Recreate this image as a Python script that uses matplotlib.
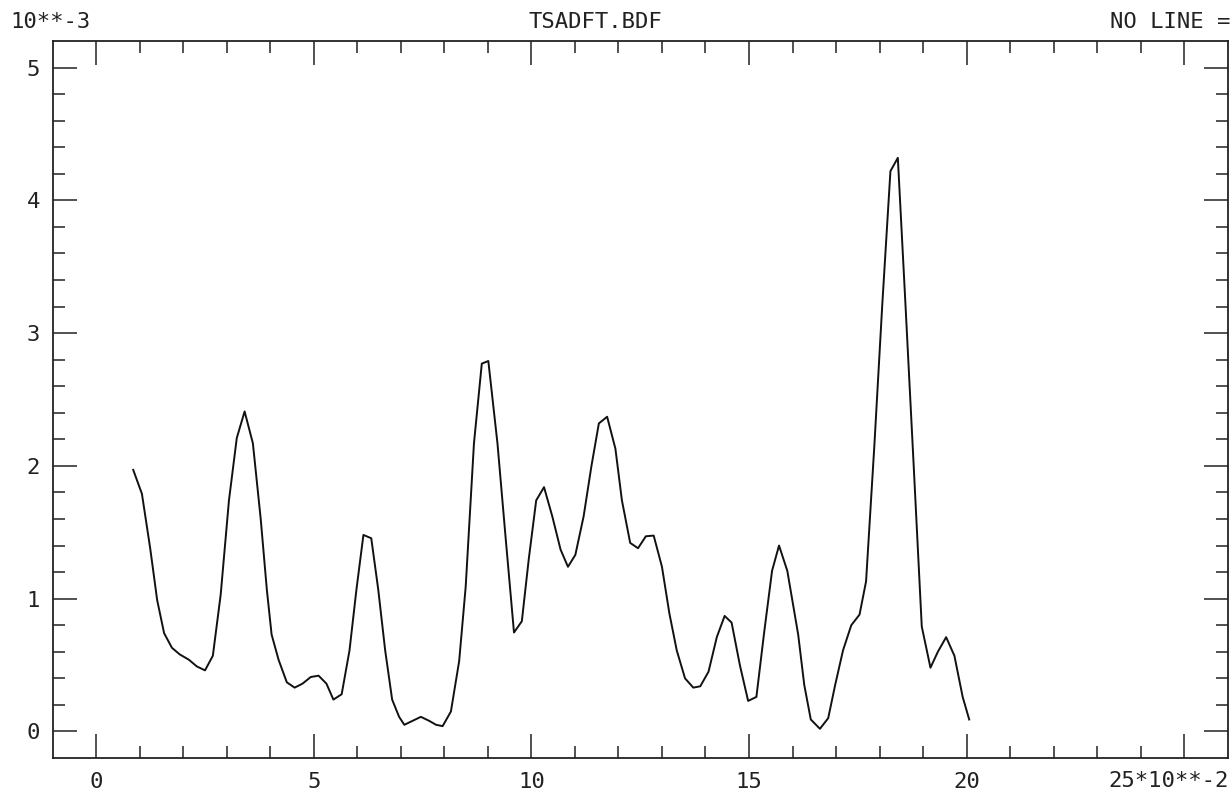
import matplotlib
matplotlib.use("Agg")
import matplotlib.pyplot as plt
from matplotlib.ticker import FixedLocator

# ---- data ----
freq = [0.85, 1.05, 1.24, 1.40, 1.56, 1.74, 1.92, 2.13, 2.31, 2.50,
        2.68, 2.86, 3.05, 3.23, 3.41, 3.60, 3.78, 3.92, 4.03, 4.19,
        4.38, 4.56, 4.74, 4.93, 5.11, 5.29, 5.45, 5.64, 5.82, 5.98,
        6.14, 6.32, 6.48, 6.64, 6.80, 6.96, 7.08, 7.27, 7.46, 7.65,
        7.81, 7.96, 8.15, 8.34, 8.49, 8.68, 8.86, 9.01, 9.22, 9.41,
        9.60, 9.78, 9.94, 10.11, 10.29, 10.48, 10.67, 10.84, 11.01, 11.20,
        11.38, 11.55, 11.74, 11.93, 12.08, 12.27, 12.45, 12.63, 12.81, 13.00,
        13.17, 13.34, 13.53, 13.72, 13.88, 14.07, 14.26, 14.44, 14.60, 14.79,
        14.98, 15.17, 15.35, 15.53, 15.69, 15.88, 16.13, 16.27, 16.42, 16.63,
        16.82, 16.98, 17.16, 17.35, 17.54, 17.69, 17.88, 18.06, 18.25, 18.42,
        18.59, 18.78, 18.97, 19.17, 19.34, 19.53, 19.72, 19.91, 20.06]
power = [1.97, 1.79, 1.38, 0.99, 0.74, 0.63, 0.58, 0.54, 0.49, 0.46,
         0.57, 1.03, 1.74, 2.21, 2.41, 2.17, 1.60, 1.07, 0.73, 0.54,
         0.37, 0.33, 0.36, 0.41, 0.42, 0.36, 0.24, 0.28, 0.61, 1.07,
         1.48, 1.455, 1.07, 0.61, 0.24, 0.11, 0.05, 0.08, 0.11, 0.08,
         0.05, 0.04, 0.15, 0.53, 1.09, 2.17, 2.77, 2.79, 2.17, 1.45,
         0.745, 0.83, 1.30, 1.74, 1.84, 1.62, 1.37, 1.24, 1.33, 1.62,
         2.00, 2.32, 2.37, 2.13, 1.74, 1.42, 1.38, 1.47, 1.475, 1.24,
         0.89, 0.61, 0.40, 0.33, 0.34, 0.45, 0.71, 0.87, 0.82, 0.50,
         0.23, 0.26, 0.75, 1.21, 1.40, 1.21, 0.73, 0.35, 0.09, 0.02,
         0.10, 0.35, 0.61, 0.80, 0.88, 1.13, 2.15, 3.20, 4.22, 4.32,
         3.25, 2.03, 0.79, 0.48, 0.60, 0.71, 0.57, 0.26, 0.09]

x_major = [0, 5, 10, 15, 20, 25]
x_labels = ["0", "5", "10", "15", "20", ""]
y_major = [0, 1, 2, 3, 4, 5]
y_labels = ["0", "1", "2", "3", "4", "5"]

title_text = "TSADFT.BDF"
y_scale_text = "10**-3"
x_scale_text = "25*10**-2"
corner_text = "NO LINE ="

plt.rcParams['font.family'] = ['DejaVu Sans Mono']
FS = 16
INK = "#222222"

fig = plt.figure(figsize=(12.31, 7.95), dpi=100)
ax = fig.add_axes([52.7 / 1231, 1 - 758 / 795, (1227.7 - 52.7) / 1231, (758 - 41) / 795])

ax.plot(freq, power, color="#111111", lw=1.4)

ax.set_xlim(-1, 26)
ax.set_ylim(-0.2, 5.2)

ax.xaxis.set_major_locator(FixedLocator(x_major))
ax.xaxis.set_minor_locator(FixedLocator([v for v in range(0, 26)]))
ax.yaxis.set_major_locator(FixedLocator(y_major))
ax.yaxis.set_minor_locator(FixedLocator([i * 0.2 for i in range(0, 26)]))
ax.set_xticklabels(x_labels)
ax.set_yticklabels(y_labels)

ax.tick_params(which="both", direction="in", top=True, right=True,
               color=INK, width=1.1)
ax.tick_params(which="major", length=17)
ax.tick_params(which="minor", length=8.5)
ax.tick_params(axis="x", which="major", labelsize=FS, pad=10, labelcolor=INK)
ax.tick_params(axis="y", which="major", labelsize=FS, pad=9, labelcolor=INK)

for s in ax.spines.values():
    s.set_linewidth(1.3)
    s.set_color(INK)

fig.text(10 / 1231, 1 - 22 / 795, y_scale_text, fontsize=FS, ha="left", va="center", color=INK)
fig.text(595 / 1231, 1 - 22 / 795, title_text, fontsize=FS, ha="center", va="center", color=INK)
fig.text(1230 / 1231, 1 - 22 / 795, corner_text, fontsize=FS, ha="right", va="center", color=INK)
fig.text(1229 / 1231, 1 - 781 / 795, x_scale_text, fontsize=FS, ha="right", va="center", color=INK)

fig.savefig("out.png", dpi=100, facecolor="white")
